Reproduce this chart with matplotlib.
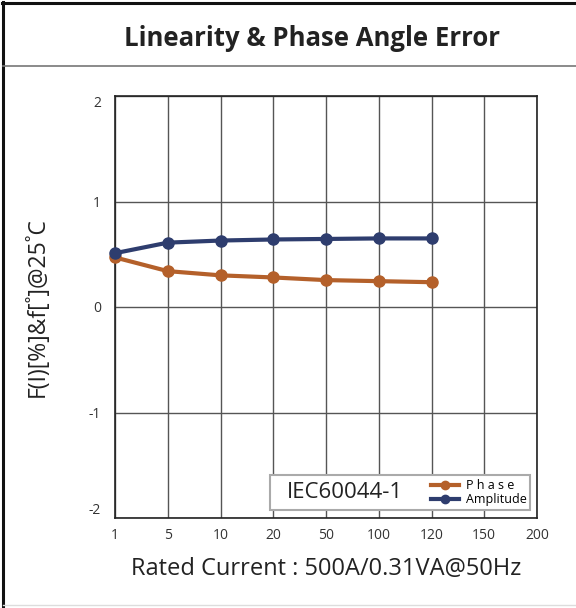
import matplotlib
matplotlib.use('Agg')
import matplotlib.pyplot as plt
from matplotlib.lines import Line2D
from matplotlib.patches import Rectangle

# data
currents = ['1', '5', '10', '20', '50', '100', '120', '150', '200']
measured = ['1', '5', '10', '20', '50', '100', '120']
amplitude = [0.51, 0.61, 0.63, 0.64, 0.645, 0.65, 0.65]
phase = [0.47, 0.34, 0.30, 0.28, 0.255, 0.245, 0.235]
yticks = [-2, -1, 0, 1, 2]

navy = '#2e3d6e'
orange = '#b4602a'
plt.rcParams['font.family'] = ['Open Sans', 'DejaVu Sans']
plt.rcParams['axes.unicode_minus'] = False

fig = plt.figure(figsize=(5.76, 6.08), dpi=100)
W, H = 576.0, 608.0

# outer frame and title band
fig.add_artist(Line2D([3 / W, 3 / W], [0, 1 - 2 / H], color='#111111', lw=2.2))
fig.add_artist(Line2D([2 / W, 1], [1 - 3 / H, 1 - 3 / H], color='#111111', lw=2.2))
fig.add_artist(Line2D([3 / W, 1], [1 - 66 / H, 1 - 66 / H], color='#777777', lw=1.2))
fig.add_artist(Line2D([3 / W, 1], [1 - 605 / H, 1 - 605 / H], color='#dddddd', lw=1))
fig.text(312 / W, 1 - 38 / H, 'Linearity & Phase Angle Error', ha='center', va='center',
         fontsize=18.5, fontweight='bold', color='#222222')

ax = fig.add_axes([115 / W, 1 - 518 / H, 422 / W, 422 / H])
xs = list(range(len(currents)))
ax.set_xlim(0, len(currents) - 1)
ax.set_ylim(-2, 2)
ax.set_xticks(xs)
ax.set_xticklabels(currents)
ax.set_yticks(yticks)
ax.tick_params(length=0, labelsize=10, colors='#333333')
ax.tick_params(axis='x', pad=7)
ax.tick_params(axis='y', pad=10)
ylabs = ax.get_yticklabels()
ylabs[0].set_va('bottom')
ylabs[-1].set_va('top')
ax.grid(True, color='#555555', lw=1)
ax.set_axisbelow(True)
for s in ax.spines.values():
    s.set_color('#222222')
    s.set_linewidth(1.2)

mx = [currents.index(c) for c in measured]
ax.plot(mx, phase, color=orange, lw=3, marker='o', ms=8, zorder=3, clip_on=False)
ax.plot(mx, amplitude, color=navy, lw=3, marker='o', ms=8, zorder=4, clip_on=False)

ax.set_ylabel('F(I)[%]&f[˚]@25˚C', fontsize=16.5, color='#222222', labelpad=28)
ax.set_xlabel('Rated Current : 500A/0.31VA@50Hz', fontsize=17, color='#222222', labelpad=10)

# legend box
ax.add_patch(Rectangle((0.367, 0.019), 0.616, 0.083, transform=ax.transAxes,
                       facecolor='white', edgecolor='#aaaaaa', lw=1.5, zorder=5))
ax.text(0.545, 0.06, 'IEC60044-1', transform=ax.transAxes, ha='center', va='center',
        fontsize=16, color='#222222', zorder=6)
handles = [Line2D([], [], color=orange, lw=3, marker='o', ms=6),
           Line2D([], [], color=navy, lw=3, marker='o', ms=6)]
leg = ax.legend(handles, ['P h a s e', 'Amplitude'], loc='center left',
                bbox_to_anchor=(0.735, 0.06), frameon=False, fontsize=9,
                handlelength=2.2, handletextpad=0.6, labelspacing=0.05, borderpad=0)
leg.set_zorder(7)

fig.savefig('out.png', dpi=100)
